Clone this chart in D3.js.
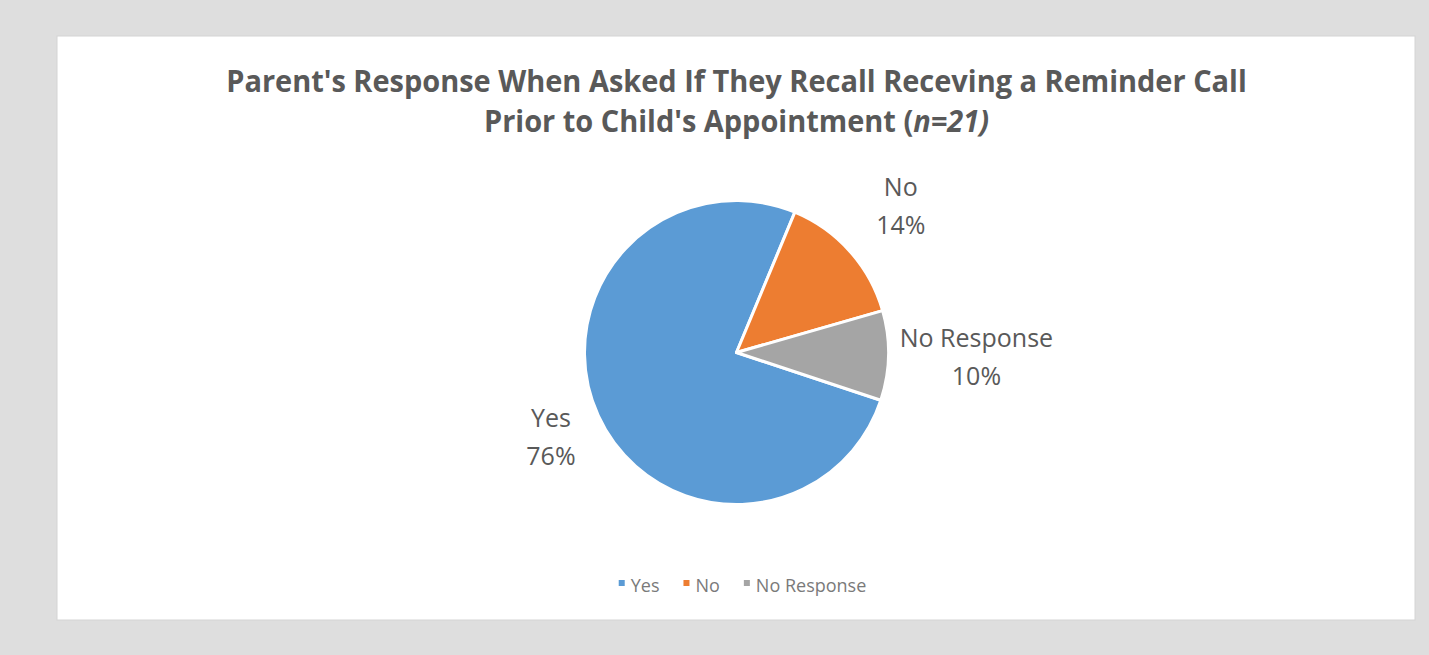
<!DOCTYPE html>
<html>
<head>
<meta charset="utf-8">
<script src="https://cdn.jsdelivr.net/npm/d3@7/dist/d3.min.js"></script>
<style>
  html, body { margin: 0; padding: 0; background: #dedede; }
  svg { display: block; }
  text { font-family: "Open Sans", "Noto Sans", sans-serif; }
</style>
</head>
<body>
<svg id="chart" width="1429" height="655"></svg>
<script>
// Survey answers (n = 21)
const categories = ["Yes", "No", "No Response"];
const counts = [16, 3, 2];
const colors = ["#5b9bd5", "#ed7d31", "#a5a5a5"];
const titleLine1 = "Parent's Response When Asked If They Recall  Receving a Reminder Call";
const titleLine2 = "Prior to Child's Appointment (";
const titleLine2Italic = "n=21)";

const W = 1429, H = 655;
const svg = d3.select("#chart");

// page background and chart panel
svg.append("rect").attr("width", W).attr("height", H).attr("fill", "#dedede");
svg.append("rect")
  .attr("x", 57).attr("y", 36).attr("width", 1358).attr("height", 584)
  .attr("fill", "#ffffff").attr("stroke", "#d4d4d4").attr("stroke-width", 1);

// title, two centred lines
const cx = 736.5;
const title = svg.append("g");
const t1 = title.append("text")
  .attr("x", cx).attr("y", 92).attr("text-anchor", "middle")
  .attr("font-size", 31).attr("font-weight", 700).attr("fill", "#595959")
  .text(titleLine1);
const t2 = title.append("text")
  .attr("x", cx).attr("y", 132).attr("text-anchor", "middle")
  .attr("font-size", 31).attr("font-weight", 700).attr("fill", "#595959");
t2.append("tspan").text(titleLine2);
t2.append("tspan").attr("font-style", "italic").text(titleLine2Italic);
// condense horizontally to the narrow bold face look
const w1 = t1.node().getComputedTextLength();
const sx = 1021 / w1;
title.attr("transform", `translate(${cx},0) scale(${sx},1) translate(${-cx},0)`);

// pie
const pieCx = 736.5, pieCy = 352.5, R = 152;
const total = d3.sum(counts);
const data = categories.map((c, i) => ({ name: c, value: counts[i], color: colors[i] }));
const startDeg = 108.3;
const pie = d3.pie().sort(null).value(d => d.value)
  .startAngle(startDeg * Math.PI / 180)
  .endAngle(startDeg * Math.PI / 180 + 2 * Math.PI);
const arcs = pie(data);
const arc = d3.arc().innerRadius(0).outerRadius(R);

const g = svg.append("g").attr("transform", `translate(${pieCx},${pieCy})`);
g.selectAll("path").data(arcs).join("path")
  .attr("d", arc)
  .attr("fill", d => d.data.color)
  .attr("stroke", "#ffffff").attr("stroke-width", 3).attr("stroke-linejoin", "round");

// data labels: category name over percentage, placed outside along the slice's mid angle
const labelDistance = { "Yes": 204, "No": 220, "No Response": 240 };
arcs.forEach(a => {
  const mid = (a.startAngle + a.endAngle) / 2;
  const d = labelDistance[a.data.name];
  const lx = Math.sin(mid) * d;
  const ly = -Math.cos(mid) * d;
  const pct = Math.round(a.data.value / total * 100) + "%";
  const t = g.append("text")
    .attr("text-anchor", "middle")
    .attr("font-size", 25).attr("fill", "#595959");
  t.append("tspan").attr("x", lx).attr("y", ly - 10).text(a.data.name);
  t.append("tspan").attr("x", lx).attr("y", ly + 28).text(pct);
});

// legend
const legend = svg.append("g");
const legendY = 592;
let lxPos = 0;
data.forEach((d, i) => {
  const item = legend.append("g");
  item.append("rect").attr("x", 0).attr("y", legendY - 12).attr("width", 6).attr("height", 6)
    .attr("fill", d.color);
  const tx = item.append("text").attr("x", 12).attr("y", legendY)
    .attr("font-size", 18).attr("fill", "#7a7a7a").text(d.name);
  const w = 12 + tx.node().getComputedTextLength();
  item.attr("transform", `translate(${lxPos},0)`);
  lxPos += w + 24;
});
const legendW = lxPos - 24;
legend.attr("transform", `translate(${cx + 6 - legendW / 2},0)`);
</script>
</body>
</html>
